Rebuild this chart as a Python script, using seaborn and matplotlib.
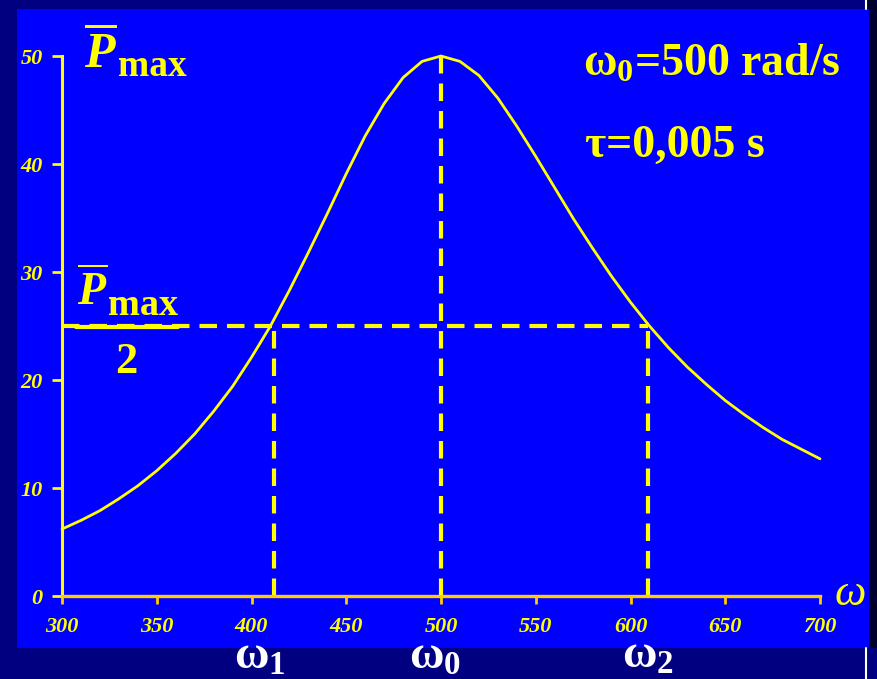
import matplotlib
matplotlib.use("Agg")
import matplotlib.pyplot as plt
from matplotlib.lines import Line2D
from matplotlib.patches import Rectangle
import numpy as np
import pandas as pd
import seaborn as sns

# Resonance curve: average power vs angular frequency (rad/s)
omega = [300, 310, 320, 330, 340, 350, 360, 370, 380, 390,
         400, 410, 420, 430, 440, 450, 460, 470, 480, 490,
         500, 510, 520, 530, 540, 550, 560, 570, 580, 590,
         600, 610, 620, 630, 640, 650, 660, 670, 680, 690, 700]
power = [6.2, 7.0, 7.9, 9.0, 10.2, 11.6, 13.2, 15.0, 17.1, 19.4,
         22.1, 25.0, 28.3, 31.8, 35.4, 39.1, 42.6, 45.6, 48.0, 49.5,
         50.0, 49.5, 48.2, 46.1, 43.5, 40.7, 37.8, 34.9, 32.2, 29.6,
         27.2, 25.0, 23.0, 21.2, 19.6, 18.1, 16.8, 15.6, 14.5, 13.6, 12.7]

p_max = 50.0
p_half = p_max / 2
w0 = 500
w1 = 412
w2 = 609

x_ticks = [300, 350, 400, 450, 500, 550, 600, 650, 700]
y_ticks = [0, 10, 20, 30, 40, 50]

NAVY = "#000080"
BLUE = "#0000FF"
YELLOW = "#FFFF00"
GOLD = "#FFCC00"
W, H = 878, 679

sns.set_theme(style="white")
plt.rcParams["font.family"] = ["Liberation Serif", "DejaVu Serif"]
plt.rcParams["mathtext.fontset"] = "custom"
plt.rcParams["mathtext.rm"] = "Liberation Serif:bold"
plt.rcParams["mathtext.bf"] = "Liberation Serif:bold"
plt.rcParams["mathtext.it"] = "Liberation Serif:italic:bold"
plt.rcParams["mathtext.default"] = "bf"


def fp(x, y):
    """pixel position -> figure fraction"""
    return x / W, 1 - y / H


fig = plt.figure(figsize=(W / 100, H / 100), dpi=100, facecolor=NAVY)

# slide panel
fig.patches.append(Rectangle(fp(867, 648), 11 / W, 648 / H, transform=fig.transFigure,
                             facecolor="#00002E", edgecolor="none", zorder=0))
fig.patches.append(Rectangle(fp(17, 648), 852 / W, 639 / H, transform=fig.transFigure,
                             facecolor=BLUE, edgecolor="none", zorder=1))
for ya, yb in [(0, 9), (648, 679)]:
    fig.lines.append(Line2D([866 / W, 866 / W], [1 - ya / H, 1 - yb / H],
                            transform=fig.transFigure, color="white", lw=1.5, zorder=2))

ax = fig.add_axes([62 / W, 1 - 596 / H, 758 / W, 540 / H])
ax.set_facecolor("none")
ax.set_zorder(3)

df = pd.DataFrame({"omega": omega, "power": power})
sns.lineplot(data=df, x="omega", y="power", color=YELLOW, lw=2, ax=ax)
for ln in ax.lines:
    ln.set_clip_on(False)

dash_kw = dict(color=YELLOW, lw=3, dashes=(4.2, 2.4), clip_on=False)
ax.plot([x_ticks[0], w2], [p_half, p_half], **dash_kw)
ax.plot([w1, w1], [0, p_half], **dash_kw)
ax.plot([w2, w2], [0, p_half], **dash_kw)
ax.plot([w0, w0], [0, p_max], **dash_kw)

ax.set_xlim(x_ticks[0], x_ticks[-1])
ax.set_ylim(y_ticks[0], y_ticks[-1])
ax.set_xticks(x_ticks)
ax.set_yticks(y_ticks)
ax.set_xticklabels([str(v) for v in x_ticks])
ax.set_yticklabels([str(v) for v in y_ticks])
ax.set_xlabel("")
ax.set_ylabel("")

for side in ["top", "right"]:
    ax.spines[side].set_visible(False)
ax.spines["bottom"].set_color(GOLD)
ax.spines["bottom"].set_linewidth(2.4)
ax.spines["left"].set_color(YELLOW)
ax.spines["left"].set_linewidth(2.2)
ax.spines["bottom"].set_zorder(5)

ax.tick_params(axis="x", direction="out", length=6, width=2, color=GOLD, pad=9,
               labelcolor=YELLOW, labelsize=16)
ax.tick_params(axis="y", direction="out", length=7, width=2, color=YELLOW, pad=7,
               labelcolor=YELLOW, labelsize=16)
ax.tick_params(bottom=True, left=True)
for lab in ax.get_xticklabels() + ax.get_yticklabels():
    lab.set_fontweight("bold")
    lab.set_fontstyle("italic")

# axis label at the end of the frequency axis
fig.text(*fp(835, 605), "ω", color=YELLOW, fontsize=32, style="italic",
         ha="left", va="baseline", zorder=6)

# vertical axis label
fig.text(*fp(84, 67), r"$\overline{\mathit{P}}$", color=YELLOW, fontsize=36,
         ha="left", va="baseline", zorder=6)
fig.text(*fp(118, 76), "max", color=YELLOW, fontsize=27, fontweight="bold",
         ha="left", va="baseline", zorder=6)

# half-power label
fig.text(*fp(77, 305), r"$\overline{\mathit{P}}$", color=YELLOW, fontsize=33,
         ha="left", va="baseline", zorder=6)
fig.text(*fp(108, 315), "max", color=YELLOW, fontsize=27.5, fontweight="bold",
         ha="left", va="baseline", zorder=6)
fig.lines.append(Line2D([76 / W, 178 / W], [1 - 327 / H, 1 - 327 / H],
                        transform=fig.transFigure, color=YELLOW, lw=3, zorder=6))
fig.text(*fp(126, 373), "2", color=YELLOW, fontsize=32, fontweight="bold",
         ha="center", va="baseline", zorder=6)

# parameters
fig.text(*fp(583, 76), "ω$_0$=500 rad/s", color=YELLOW, fontsize=33,
         fontweight="bold", ha="left", va="baseline", zorder=6)
fig.text(*fp(585, 157), "τ=0,005 s", color=YELLOW, fontsize=33,
         fontweight="bold", ha="left", va="baseline", zorder=6)

# frequency markers below the panel
for x, y, s in [(234, 669, r"$ω_{1}$"), (409, 669, r"$ω_{0}$"), (622, 668, r"$ω_{2}$")]:
    fig.text(*fp(x, y), s, color="white", fontsize=34,
             ha="left", va="baseline", zorder=6)

fig.savefig("out.png", dpi=100, facecolor=NAVY)
